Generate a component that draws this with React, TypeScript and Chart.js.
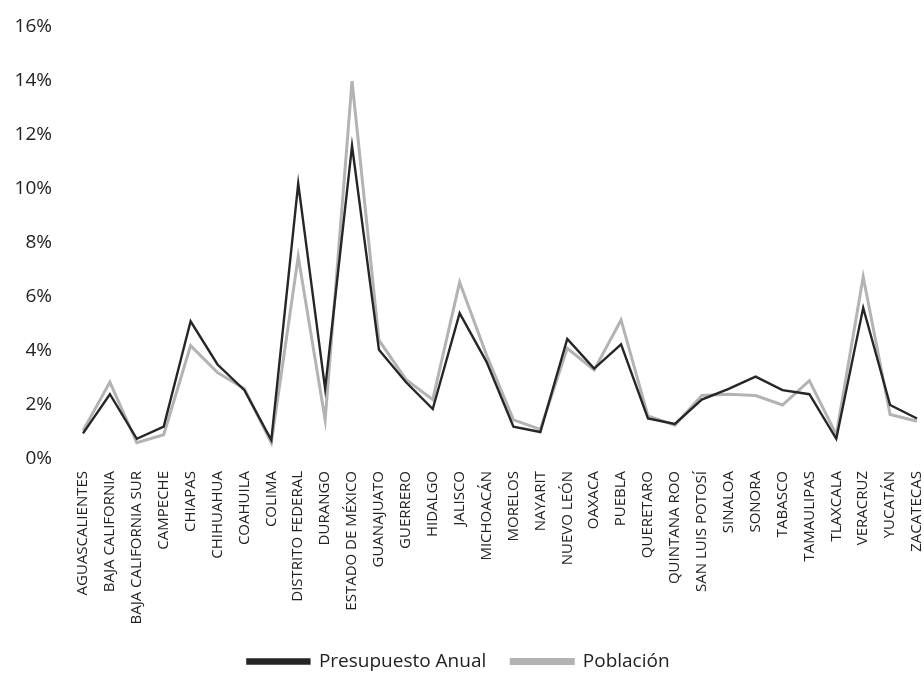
import React, { useEffect, useRef } from "react";
import { Chart, registerables } from "chart.js";

Chart.register(...registerables);

const states = [
  "AGUASCALIENTES", "BAJA CALIFORNIA", "BAJA CALIFORNIA SUR", "CAMPECHE", "CHIAPAS",
  "CHIHUAHUA", "COAHUILA", "COLIMA", "DISTRITO FEDERAL", "DURANGO", "ESTADO DE MÉXICO",
  "GUANAJUATO", "GUERRERO", "HIDALGO", "JALISCO", "MICHOACÁN", "MORELOS", "NAYARIT",
  "NUEVO LEÓN", "OAXACA", "PUEBLA", "QUERETARO", "QUINTANA ROO", "SAN LUIS POTOSÍ",
  "SINALOA", "SONORA", "TABASCO", "TAMAULIPAS", "TLAXCALA", "VERACRUZ", "YUCATÁN", "ZACATECAS",
];

const presupuesto = [
  0.95, 2.4, 0.75, 1.2, 5.1, 3.5, 2.55, 0.7, 10.2, 2.6, 11.6,
  4.05, 2.85, 1.85, 5.4, 3.6, 1.2, 1.0, 4.45, 3.35, 4.25,
  1.5, 1.3, 2.2, 2.6, 3.05, 2.55, 2.4, 0.75, 5.6, 2.0, 1.5,
];

const poblacion = [
  1.05, 2.85, 0.6, 0.9, 4.2, 3.2, 2.6, 0.6, 7.5, 1.45, 14.0,
  4.4, 2.95, 2.2, 6.55, 3.85, 1.45, 1.1, 4.1, 3.3, 5.15,
  1.6, 1.25, 2.35, 2.4, 2.35, 2.0, 2.9, 0.9, 6.75, 1.65, 1.4,
];

const yTicks = [0, 2, 4, 6, 8, 10, 12, 14, 16];

const FONT = "'Open Sans', 'Noto Sans', sans-serif";

export default function App() {
  const ref = useRef<HTMLCanvasElement | null>(null);

  useEffect(() => {
    if (!ref.current) return;
    const chart = new Chart(ref.current, {
      type: "line",
      data: {
        labels: states,
        datasets: [
          {
            label: "Presupuesto Anual",
            data: presupuesto,
            borderColor: "#262626",
            backgroundColor: "#262626",
            borderWidth: 2.4,
            pointRadius: 0,
            tension: 0,
          },
          {
            label: "Población",
            data: poblacion,
            borderColor: "#b3b3b3",
            backgroundColor: "#b3b3b3",
            borderWidth: 3,
            pointRadius: 0,
            tension: 0,
          },
        ],
      },
      options: {
        animation: false,
        responsive: false,
        maintainAspectRatio: false,
        layout: { padding: { top: 27, right: 7, bottom: 8, left: 0 } },
        plugins: {
          legend: {
            position: "bottom",
            labels: {
              color: "#222",
              font: { family: FONT, size: 19 },
              boxWidth: 62,
              boxHeight: 4,
              padding: 25,
            },
          },
          tooltip: { enabled: false },
        },
        scales: {
          x: {
            type: "category",
            offset: false,
            grid: { display: false, drawTicks: false },
            border: { display: false },
            ticks: {
              autoSkip: false,
              minRotation: 90,
              maxRotation: 90,
              color: "#222",
              padding: 12,
              font: { family: FONT, size: 15 },
            },
            afterFit: (scale: any) => {
              scale.height = 168;
              scale.paddingLeft = 0;
              scale.paddingRight = 0;
              scale._computeLabelArea = () => undefined;
            },
          },
          y: {
            min: 0,
            max: 16,
            grid: { display: false, drawTicks: false },
            border: { display: false },
            afterBuildTicks: (scale: any) => {
              scale.ticks = yTicks.map((v) => ({ value: v }));
            },
            ticks: {
              color: "#222",
              padding: 31,
              font: { family: FONT, size: 19 },
              callback: (v: any) => `${v}%`,
            },
            afterFit: (scale: any) => {
              scale.width = 83;
              scale.paddingTop = 0;
              scale.paddingBottom = 0;
            },
          },
        },
      },
    });
    return () => chart.destroy();
  }, []);

  return (
    <div style={{ position: "absolute", left: 0, top: 0, width: 924, height: 689, background: "#fff" }}>
      <canvas ref={ref} width={924} height={689} style={{ width: 924, height: 689 }} />
    </div>
  );
}
